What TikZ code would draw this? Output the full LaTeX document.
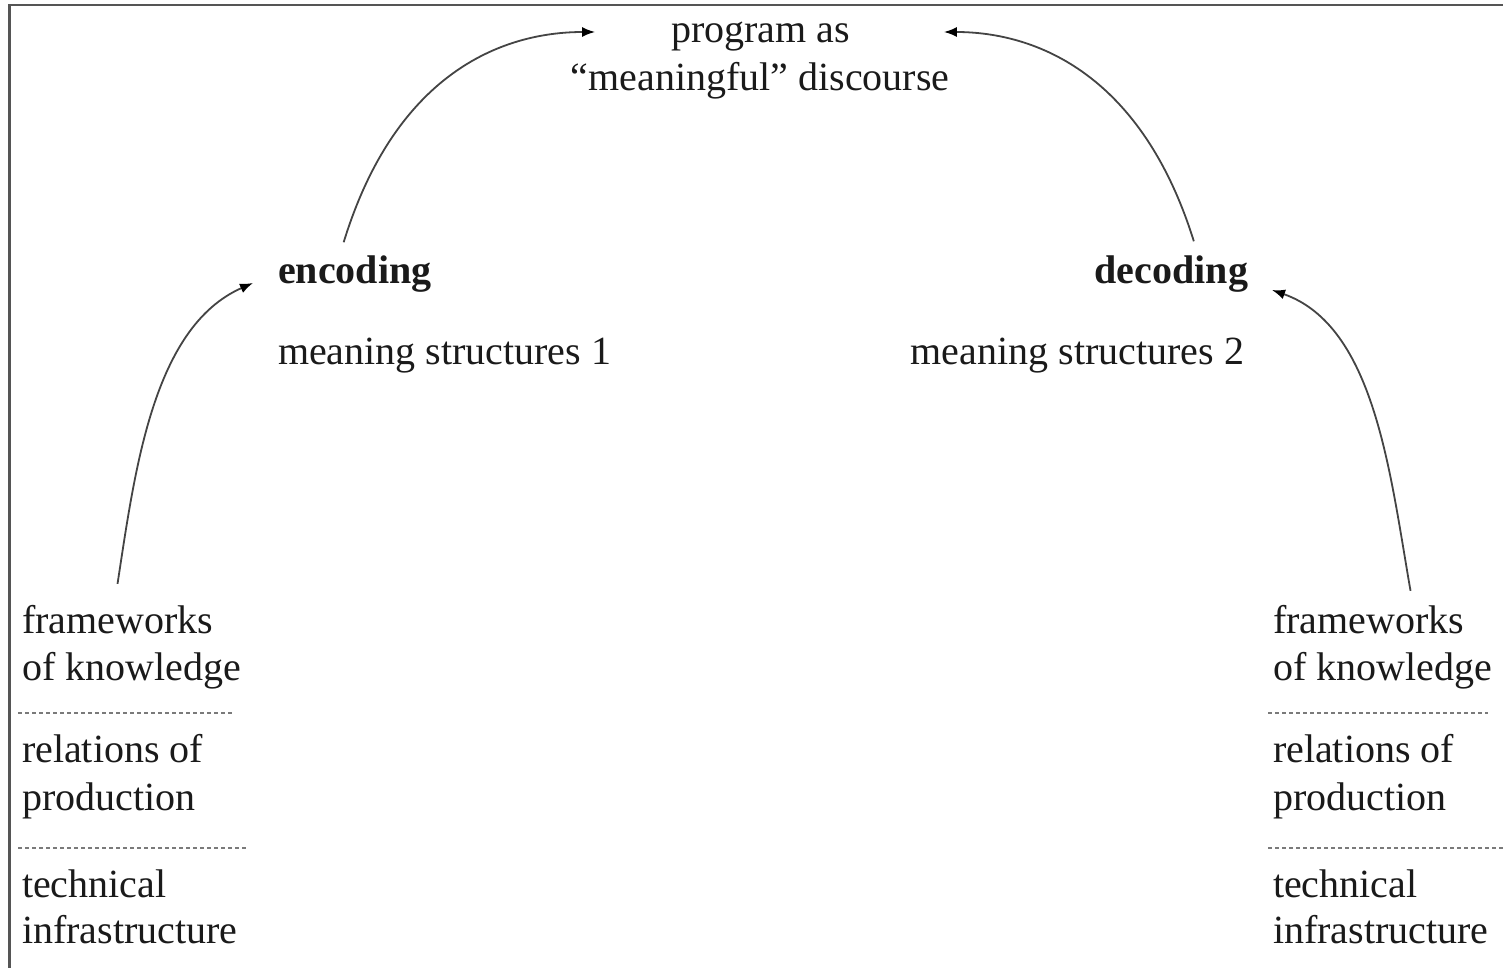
\documentclass[tikz,border=0pt]{standalone}
\usepackage{fontspec}
\setmainfont{Liberation Serif}
\usetikzlibrary{arrows.meta}
\definecolor{inkc}{HTML}{1A1A1A}
\definecolor{framec}{HTML}{555555}
\definecolor{dashc}{HTML}{7A7A7A}
\definecolor{arrc}{HTML}{444444}
\tikzset{
  lbl/.style={inner sep=0pt, outer sep=0pt, text=inkc, font=\fontsize{20}{24}\selectfont},
  blbl/.style={lbl, font=\fontsize{20}{24}\selectfont\bfseries},
  arr/.style={draw=arrc, line width=0.9pt, -{Latex[length=6.5pt,width=5pt,color=black]}},
  sep/.style={draw=dashc, line width=0.8pt, dash pattern=on 2pt off 1.5pt},
  frame/.style={draw=framec, line width=1.3pt}
}
\begin{document}
\begin{tikzpicture}[x=0.5pt,y=-0.5pt]
\useasboundingbox (0,0) rectangle (1503,968);
\fill[white] (0,0) rectangle (1503,968);
% frame (top and left edges visible)
\draw[frame] (9.5,968) -- (9.5,5) -- (1503,5);

% top
\node[lbl, anchor=base] (prog1) at (760.5,43) {program as};
\node[lbl, anchor=base] (prog2) at (760,91) {“meaningful” discourse};

% encoding / decoding
\node[blbl, anchor=base west] (enc) at (278,283) {encoding};
\node[lbl, anchor=base west] (ms1) at (278,364) {meaning structures 1};
\node[blbl, anchor=base east] (dec) at (1248,283) {decoding};
\node[lbl, anchor=base east] (ms2) at (1244,364) {meaning structures 2};

% left column
\node[lbl, anchor=base west] (fkL) at (22,633) {frameworks};
\node[lbl, anchor=base west] (fkL2) at (22,680) {of knowledge};
\node[lbl, anchor=base west] (rpL) at (22,762) {relations of};
\node[lbl, anchor=base west] (rpL2) at (22,810) {production};
\node[lbl, anchor=base west] (tiL) at (22,897) {technical};
\node[lbl, anchor=base west] (tiL2) at (22,943) {infrastructure};

% right column
\node[lbl, anchor=base west] (fkR) at (1273,633) {frameworks};
\node[lbl, anchor=base west] (fkR2) at (1273,680) {of knowledge};
\node[lbl, anchor=base west] (rpR) at (1273,762) {relations of};
\node[lbl, anchor=base west] (rpR2) at (1273,810) {production};
\node[lbl, anchor=base west] (tiR) at (1273,897) {technical};
\node[lbl, anchor=base west] (tiR2) at (1273,943) {infrastructure};

% dashed separators
\draw[sep] (18,713) -- (235,713);
\draw[sep] (18,848) -- (247,848);
\draw[sep] (1268,713) -- (1488,713);
\draw[sep] (1268,848) -- (1503,848);

% arrows
\draw[arr] ([yshift=10.5pt]fkL.north) .. controls (135,470) and (153,327) .. ([xshift=-12.5pt]enc.base west);
\draw[arr] ([xshift=-5.5pt,yshift=6.5pt]enc.north) .. controls (395,75) and (500,32) .. ([xshift=-38pt,yshift=5.5pt]prog1.base west);
\draw[arr] ([xshift=11.25pt,yshift=7pt]dec.north) .. controls (1142,75) and (1037,32) .. ([xshift=47pt,yshift=5.5pt]prog1.base east);
\draw[arr] ([xshift=21pt,yshift=7pt]fkR.north) .. controls (1390,474) and (1375,326) .. ([xshift=12pt,yshift=-3.5pt]dec.base east);
\end{tikzpicture}
\end{document}
